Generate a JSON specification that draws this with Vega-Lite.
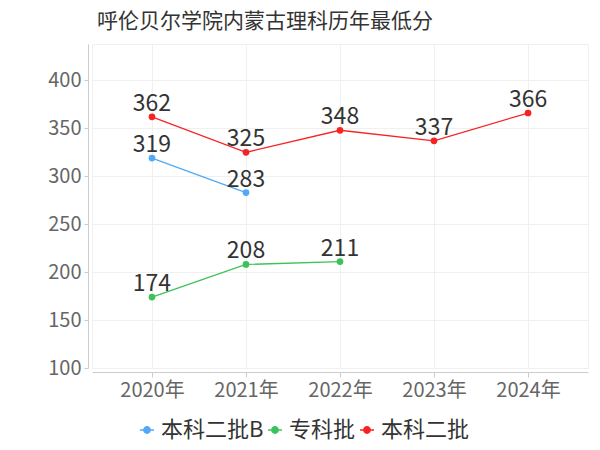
{
  "$schema": "https://vega.github.io/schema/vega-lite/v6.json",
  "width": 496,
  "height": 324,
  "autosize": {"type": "none"},
  "padding": {"left": 92, "top": 44, "right": 12, "bottom": 82},
  "background": "white",
  "config": {
    "font": "Noto Sans CJK SC",
    "view": {"stroke": "#f0f0f0"}
  },
  "title": {
    "text": "呼伦贝尔学院内蒙古理科历年最低分",
    "anchor": "start",
    "frame": "group",
    "dx": 5,
    "offset": 12,
    "fontSize": 21,
    "fontWeight": "normal",
    "color": "#333333",
    "font": "Noto Sans CJK SC"
  },
  "data": {
    "values": [
      {"year": "2020年", "batch": "本科二批B", "score": 319},
      {"year": "2021年", "batch": "本科二批B", "score": 283},
      {"year": "2020年", "batch": "专科批", "score": 174},
      {"year": "2021年", "batch": "专科批", "score": 208},
      {"year": "2022年", "batch": "专科批", "score": 211},
      {"year": "2020年", "batch": "本科二批", "score": 362},
      {"year": "2021年", "batch": "本科二批", "score": 325},
      {"year": "2022年", "batch": "本科二批", "score": 348},
      {"year": "2023年", "batch": "本科二批", "score": 337},
      {"year": "2024年", "batch": "本科二批", "score": 366}
    ]
  },
  "encoding": {
    "x": {
      "field": "year",
      "type": "ordinal",
      "scale": {"type": "point", "padding": 0.638},
      "axis": {
        "title": null,
        "labelAngle": 0,
        "offset": 4,
        "domainColor": "#cccccc",
        "tickColor": "#cccccc",
        "tickSize": 5,
        "labelFontSize": 20,
        "labelColor": "#666666",
        "labelPadding": 3,
        "grid": true,
        "gridColor": "#f0f0f0"
      }
    },
    "y": {
      "field": "score",
      "type": "quantitative",
      "scale": {"domain": [100, 438], "nice": false, "zero": false},
      "axis": {
        "title": null,
        "values": [100, 150, 200, 250, 300, 350, 400],
        "offset": 4,
        "domainColor": "#cccccc",
        "tickColor": "#cccccc",
        "tickSize": 4,
        "labelFontSize": 20,
        "labelColor": "#666666",
        "labelPadding": 3,
        "gridColor": "#f0f0f0"
      }
    },
    "color": {
      "field": "batch",
      "type": "nominal",
      "scale": {
        "domain": ["本科二批B", "专科批", "本科二批"],
        "range": ["#52a9f7", "#3dc25a", "#f72323"]
      },
      "legend": {
        "title": null,
        "orient": "none",
        "direction": "horizontal",
        "legendX": 44,
        "legendY": 375,
        "labelFontSize": 22,
        "labelColor": "#333333",
        "labelFont": "Noto Sans CJK SC",
        "symbolType": "M-1,0L1,0M0.45,0A0.45,0.45,0,1,1,-0.45,0A0.45,0.45,0,1,1,0.45,0",
        "symbolSize": 196,
        "symbolStrokeWidth": 1.5,
        "labelOffset": 3,
        "columnPadding": 0
      }
    }
  },
  "layer": [
    {"mark": {"type": "line", "strokeWidth": 1.3}},
    {"mark": {"type": "point", "filled": true, "size": 45, "opacity": 1}},
    {
      "mark": {"type": "text", "dy": -13, "fontSize": 23, "color": "#333333"},
      "encoding": {
        "text": {"field": "score", "type": "quantitative"},
        "color": {"value": "#333333"}
      }
    }
  ]
}
